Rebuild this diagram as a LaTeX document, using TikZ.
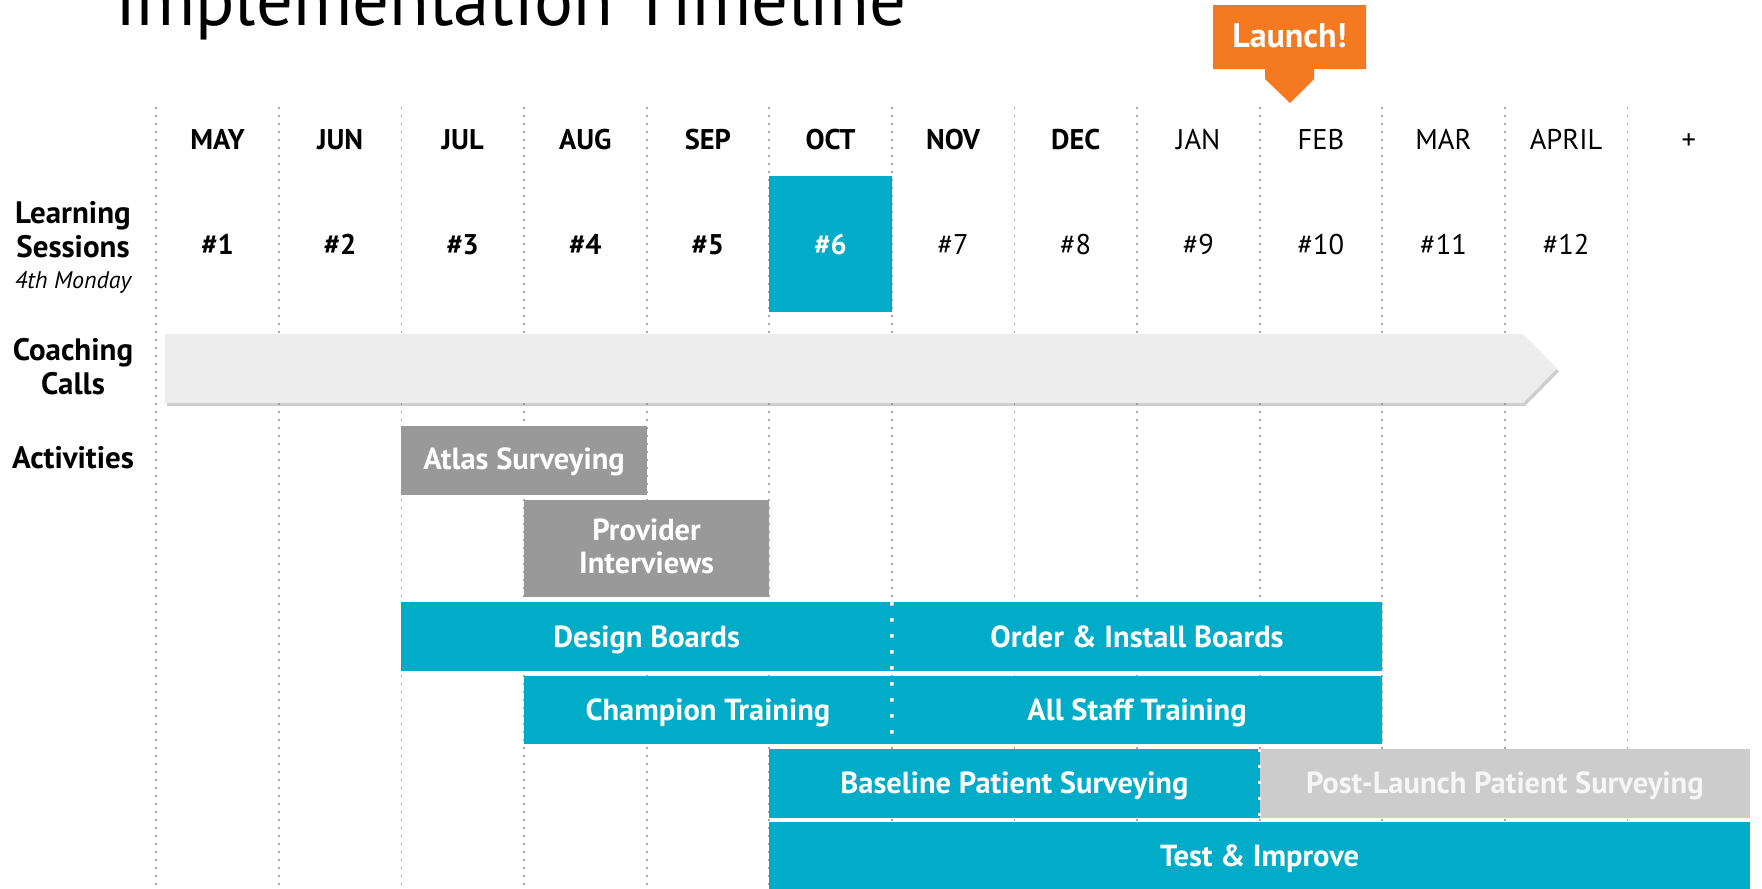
\documentclass[tikz,border=0pt]{standalone}
\usepackage{fontspec}
\setmainfont{PT Sans}
\usetikzlibrary{shadows}
\definecolor{tealbar}{RGB}{0,172,199}
\definecolor{graybar}{RGB}{153,153,153}
\definecolor{lightbar}{RGB}{204,204,204}
\definecolor{lighttext}{RGB}{246,246,246}
\definecolor{arrowfill}{RGB}{237,237,237}
\definecolor{launchc}{RGB}{244,121,32}
\definecolor{gridgray}{RGB}{168,168,168}
\tikzset{
  gridline/.style={draw=gridgray, line width=1.8pt, dash pattern=on 1.8pt off 6.2pt},
  divider/.style={draw=white, line width=3.6pt, dash pattern=on 3.6pt off 12.4pt},
  monthb/.style={anchor=base, inner sep=0pt, font=\fontsize{28.5}{33}\selectfont\bfseries},
  monthr/.style={anchor=base, inner sep=0pt, font=\fontsize{28.5}{33}\selectfont},
  sessb/.style={monthb},
  sessr/.style={monthr},
  rowlab/.style={anchor=base, inner sep=0pt, font=\fontsize{31}{36}\selectfont\bfseries},
  rowsub/.style={anchor=base, inner sep=0pt, font=\fontsize{24}{28}\selectfont\itshape},
  bar/.style={anchor=north west, inner sep=0pt, outer sep=0pt},
  bartext/.style={inner sep=0pt, text=white, text height=21.5pt, text depth=0pt, font=\fontsize{30.5}{36}\selectfont\bfseries},
  bartextb/.style={anchor=base, inner sep=0pt, text=white, font=\fontsize{30.5}{36}\selectfont\bfseries},
}
\begin{document}
\begin{tikzpicture}[x=1pt,y=-1pt]
\useasboundingbox (0,0) rectangle (1762,889);
\fill[white] (0,0) rectangle (1762,889);

% title (cut by the top edge)
\node[anchor=base west, inner sep=0pt] (title) at (115,25)
  {\resizebox{791pt}{!}{\fontsize{60}{70}\selectfont Implementation Timeline}};

% grid lines
\foreach \k in {0,...,12}
  \draw[gridline] ({156.2+122.6*\k},107) -- ({156.2+122.6*\k},889);

% months
\foreach \t [count=\i from 0] in {MAY,JUN,JUL,AUG,SEP,OCT,NOV,DEC}
  \node[monthb] (m\i) at ({217.5+122.6*\i},149) {\t};
\foreach \t [count=\i from 8] in {JAN,FEB,MAR,APRIL,+}
  \node[monthr] (m\i) at ({217.5+122.6*\i},149) {\t};

% learning session highlight
\node[bar, fill=tealbar, minimum width=122.6pt, minimum height=136pt] (oct) at (769.2,176) {};

% sessions
\foreach \n in {1,...,5}
  \node[sessb] (s\n) at ({217.5+122.6*(\n-1)},254) {\#\n};
\node[sessb, text=white] (s6) at (830.5,254) {\#6};
\foreach \n in {7,...,12}
  \node[sessr] (s\n) at ({217.5+122.6*(\n-1)},254) {\#\n};

% row labels
\node[rowlab] (learn1) at (73,223) {Learning};
\node[rowlab] (learn2) at (73,257) {Sessions};
\node[rowsub] (learn3) at (73,288) {4th Monday};
\node[rowlab] (coach1) at (73,360) {Coaching};
\node[rowlab] (coach2) at (73,394) {Calls};
\node[rowlab] (activ) at (73,468) {Activities};

% coaching calls arrow
\fill[arrowfill, drop shadow={shadow xshift=2pt, shadow yshift=-3pt, opacity=0.35, fill=black!55}]
  (165,334) -- (1523,334) -- (1557,368.5) -- (1523,403) -- (165,403) -- cycle;

% launch callout
\fill[launchc] (1213,5) -- (1366,5) -- (1366,69) -- (1314,69) -- (1314,79)
  -- (1290,103) -- (1265,79) -- (1265,69) -- (1213,69) -- cycle;
\node[inner sep=0pt, text=white, font=\fontsize{34}{40}\selectfont\bfseries, text height=23.5pt, text depth=0pt] (launch) at (1289.5,35.5) {Launch!};

% activity bars
\node[bar, fill=graybar, minimum width=245.2pt, minimum height=68.5pt] (atlas) at (401.4,426) {};
\node[bartext] (atlast) at ([yshift=1.5pt]atlas.center) {Atlas Surveying};

\node[bar, fill=graybar, minimum width=245.2pt, minimum height=97.5pt] (prov) at (524,499.5) {};
\node[bartextb] (provt1) at (646.6,540.5) {Provider};
\node[bartextb] (provt2) at (646.6,573.5) {Interviews};

\node[bar, fill=tealbar, minimum width=490.4pt, minimum height=69pt] (design) at (401.4,602) {};
\node[bartext] (designt) at (design.center) {Design Boards};
\node[bar, fill=tealbar, minimum width=490.4pt, minimum height=69pt] (order) at (891.8,602) {};
\node[bartext] (ordert) at (order.center) {Order \& Install Boards};

\node[bar, fill=tealbar, minimum width=367.8pt, minimum height=68.5pt] (champ) at (524,675.5) {};
\node[bartext] (champt) at (champ.center) {Champion Training};
\node[bar, fill=tealbar, minimum width=490.4pt, minimum height=68.5pt] (staff) at (891.8,675.5) {};
\node[bartext] (stafft) at (staff.center) {All Staff Training};

\node[bar, fill=tealbar, minimum width=490.4pt, minimum height=69pt] (base) at (769.2,748.5) {};
\node[bartext] (baset) at (base.center) {Baseline Patient Surveying};
\node[bar, fill=lightbar, minimum width=490.4pt, minimum height=69pt] (post) at (1259.6,748.5) {};
\node[bartext, text=lighttext] (postt) at (post.center) {Post-Launch Patient Surveying};

\node[bar, fill=tealbar, minimum width=980.8pt, minimum height=67pt] (test) at (769.2,822) {};
\node[bartext] (testt) at (test.center) {Test \& Improve};

% dividers
\draw[divider] (design.north east) -- (staff.south west);
\draw[divider] (base.north east) -- (base.south east);
\end{tikzpicture}
\end{document}
